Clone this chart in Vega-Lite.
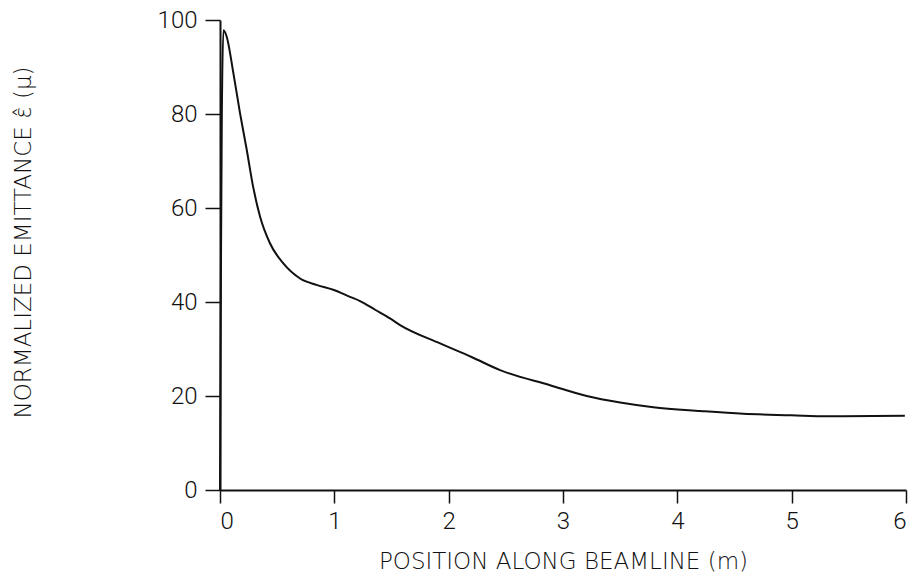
{
  "$schema": "https://vega.github.io/schema/vega-lite/v6.json",
  "width": 686,
  "height": 470,
  "autosize": {"type": "none"},
  "padding": {"left": 220, "top": 20, "right": 15, "bottom": 97},
  "background": "white",
  "config": {
    "view": {"stroke": null},
    "axis": {
      "grid": false,
      "domainColor": "#111",
      "domainWidth": 2,
      "tickColor": "#111",
      "tickWidth": 1.5,
      "labelFont": "Roboto",
      "labelFontWeight": 300,
      "labelColor": "#111",
      "labelFontSize": 24,
      "titleFont": "DejaVu Sans",
      "titleFontWeight": 200,
      "titleColor": "#111",
      "titleFontSize": 23
    }
  },
  "data": {
    "values": [
      {"x": 0.0, "y": 0},
      {"x": 0.008, "y": 45},
      {"x": 0.016, "y": 80},
      {"x": 0.03, "y": 97.8},
      {"x": 0.058, "y": 96.5},
      {"x": 0.117, "y": 88.7},
      {"x": 0.175, "y": 80.2},
      {"x": 0.233, "y": 72.5},
      {"x": 0.29, "y": 64.5},
      {"x": 0.35, "y": 58.2},
      {"x": 0.437, "y": 52.5},
      {"x": 0.554, "y": 48.2},
      {"x": 0.7, "y": 45},
      {"x": 0.85, "y": 43.6},
      {"x": 0.99, "y": 42.6},
      {"x": 1.137, "y": 41.1},
      {"x": 1.225, "y": 40.2},
      {"x": 1.36, "y": 38.3},
      {"x": 1.487, "y": 36.5},
      {"x": 1.575, "y": 35.1},
      {"x": 1.925, "y": 31.2},
      {"x": 2.2, "y": 28.3},
      {"x": 2.45, "y": 25.5},
      {"x": 2.887, "y": 22.3},
      {"x": 3.208, "y": 20},
      {"x": 3.5, "y": 18.6},
      {"x": 3.79, "y": 17.6},
      {"x": 4.2, "y": 16.8},
      {"x": 4.576, "y": 16.2},
      {"x": 5.0, "y": 15.9},
      {"x": 5.31, "y": 15.7},
      {"x": 5.99, "y": 15.8}
    ]
  },
  "mark": {"type": "line", "color": "#111", "strokeWidth": 2, "interpolate": "monotone"},
  "encoding": {
    "x": {
      "field": "x",
      "type": "quantitative",
      "scale": {"domain": [0, 6], "nice": false},
      "axis": {
        "title": "POSITION ALONG BEAMLINE (m)",
        "values": [0, 1, 2, 3, 4, 5, 6],
        "tickSize": 13,
        "labelPadding": 6,
        "titlePadding": 17
      }
    },
    "y": {
      "field": "y",
      "type": "quantitative",
      "scale": {"domain": [0, 100], "nice": false},
      "axis": {
        "title": "NORMALIZED EMITTANCE\u00a0ε̂\u00a0(μ)",
        "values": [0, 20, 40, 60, 80, 100],
        "tickSize": 15,
        "labelPadding": 8,
        "titleX": -185,
        "titleY": 222
      }
    }
  }
}
